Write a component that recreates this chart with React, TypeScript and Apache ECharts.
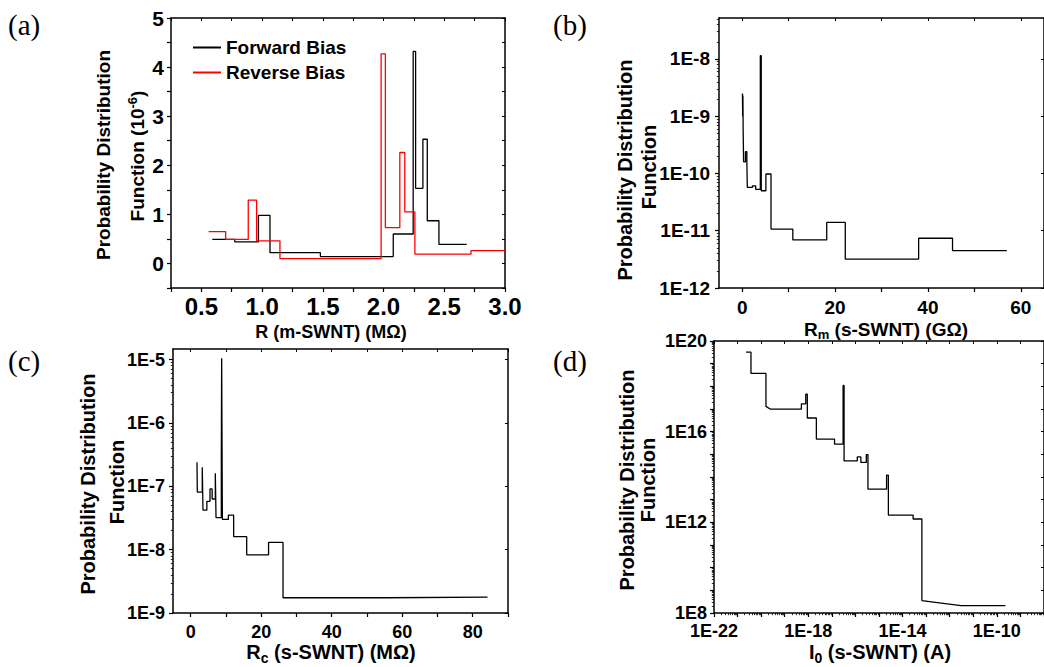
import React, { useEffect, useRef } from 'react';
import * as echarts from 'echarts';

const FONT = '"Liberation Sans", Arial, Helvetica, sans-serif';
const SERIF = '"Liberation Serif", "Times New Roman", serif';

// ---------- (a) R (m-SWNT) (MΩ) vs PDF (10^-6); step bins [start, value] ----------
const forwardBias: [number, number][] = [
  [0.59, 0.49], [0.775, 0.44], [0.97, 0.98], [1.065, 0.22], [1.48, 0.14],
  [2.08, 0.6], [2.244, 4.32], [2.264, 1.53], [2.324, 2.53], [2.36, 0.87],
  [2.456, 0.39], [2.685, 0.39],
];
const reverseBias: [number, number][] = [
  [0.56, 0.65], [0.7, 0.49], [0.886, 1.29], [0.955, 0.46], [1.147, 0.1],
  [1.98, 4.27], [2.015, 0.73], [2.134, 2.26], [2.175, 1.05], [2.258, 0.19],
  [2.72, 0.26], [3.0, 0.26],
];
const aXTicks = [0.25, 0.5, 0.75, 1.0, 1.25, 1.5, 1.75, 2.0, 2.25, 2.5, 2.75, 3.0];
const aXLabels = [0.5, 1.0, 1.5, 2.0, 2.5, 3.0];
const aYTicks = [-0.5, 0, 0.5, 1, 1.5, 2, 2.5, 3, 3.5, 4, 4.5, 5];
const aYLabels = [0, 1, 2, 3, 4, 5];

// ---------- (b) Rm (s-SWNT) (GΩ) vs PDF ----------
const rmSteps: [number, number][] = [
  [0.05, 2.5e-9], [0.1, 1.0e-9], [0.15, 2.3e-9], [0.2, 6e-10], [0.3, 1.6e-10],
  [0.7, 2.4e-10], [1.0, 1.6e-10], [1.1, 5.7e-11], [2.2, 6.1e-11], [2.9, 5.3e-11],
  [3.9, 1.14e-8], [4.1, 5.0e-11], [5.1, 9.8e-11], [6.2, 1.07e-11], [10.9, 6.9e-12],
  [18.2, 1.4e-11], [22.2, 3.2e-12], [38.0, 7.4e-12], [45.3, 4.5e-12], [57.0, 4.5e-12],
];
const bXTicks = [0, 10, 20, 30, 40, 50, 60];
const bXLabels = [0, 20, 40, 60];
const bYLabels = [1e-12, 1e-11, 1e-10, 1e-9, 1e-8];

// ---------- (c) Rc (s-SWNT) (MΩ) vs PDF ----------
const rcSteps: [number, number][] = [
  [1.8, 2.4e-7], [1.9, 8.1e-8], [3.3, 2.0e-7], [3.5, 4.2e-8], [4.6, 5.8e-8],
  [5.5, 9.1e-8], [6.1, 6.3e-8], [7.0, 1.6e-7], [7.2, 3.2e-8], [8.7, 2.8e-7],
  [8.8, 1.05e-5], [9.0, 3.0e-8], [10.7, 3.5e-8], [12.2, 1.6e-8], [15.9, 8.3e-9],
  [22.1, 1.3e-8], [26.2, 1.74e-9], [55.6, 1.78e-9], [84.2, 1.78e-9],
];
const cXTicks = [0, 10, 20, 30, 40, 50, 60, 70, 80, 90];
const cXLabels = [0, 20, 40, 60, 80];
const cYLabels = [1e-9, 1e-8, 1e-7, 1e-6, 1e-5];

// ---------- (d) I0 (s-SWNT) (A) vs PDF; polyline vertices ----------
const i0Trace: [number, number][] = [
  [2.3e-21, 3.2e19], [3.7e-21, 3.2e19], [3.7e-21, 3.7e18], [1.6e-20, 3.7e18],
  [1.6e-20, 1.3e17], [2.5e-20, 9.8e16], [5.1e-19, 9.8e16], [5.1e-19, 1.7e17],
  [7.8e-19, 1.7e17], [7.8e-19, 4.5e17], [9.1e-19, 4.5e17], [9.1e-19, 4.0e16],
  [2.2e-18, 4.0e16], [2.2e-18, 4.7e15], [1.3e-17, 4.7e15], [1.3e-17, 2.8e15],
  [3.0e-17, 2.8e15], [3.0e-17, 1.1e18], [3.3e-17, 1.1e18], [3.3e-17, 5.1e14],
  [1.2e-16, 5.1e14], [1.2e-16, 7.7e14], [1.7e-16, 7.7e14], [1.7e-16, 4.4e14],
  [2.9e-16, 4.4e14], [2.9e-16, 9.8e14], [3.4e-16, 9.8e14], [3.4e-16, 2.9e13],
  [2.1e-15, 2.9e13], [2.1e-15, 1.2e14], [2.5e-15, 1.2e14], [2.5e-15, 2.1e12],
  [2.8e-14, 2.1e12], [2.8e-14, 1.4e12], [6.6e-14, 1.4e12], [6.6e-14, 3.5e8],
  [3.0e-12, 2.1e8], [2.3e-10, 2.1e8],
];
const dXTicks = [1e-22, 1e-21, 1e-20, 1e-19, 1e-18, 1e-17, 1e-16, 1e-15, 1e-14, 1e-13, 1e-12, 1e-11, 1e-10, 1e-9, 1e-8];
const dXLabels = [1e-22, 1e-18, 1e-14, 1e-10];
const dYTicks = [1e8, 1e9, 1e10, 1e11, 1e12, 1e13, 1e14, 1e15, 1e16, 1e17, 1e18, 1e19, 1e20];
const dYLabels = [1e8, 1e12, 1e16, 1e20];

function logMinors(lo: number, hi: number): number[] {
  const out: number[] = [];
  const e0 = Math.floor(Math.log10(lo));
  const e1 = Math.ceil(Math.log10(hi));
  for (let e = e0; e <= e1; e++) {
    for (let m = 2; m <= 9; m++) {
      const v = m * Math.pow(10, e);
      if (v > lo && v < hi) out.push(v);
    }
  }
  return out;
}

const expFmt = (v: number) => '1E' + Math.round(Math.log10(v));

function mainAxis(o: any) {
  return {
    type: o.type,
    logBase: 10,
    gridIndex: o.grid,
    position: o.pos,
    min: o.min,
    max: o.max,
    axisLine: { show: true, onZero: false, lineStyle: { color: '#000', width: 1.5 } },
    axisTick: { show: true, inside: false, length: 4, customValues: o.ticks, lineStyle: { color: '#000', width: 1.2 } },
    axisLabel: {
      show: true, customValues: o.labels, formatter: o.fmt, margin: o.margin,
      fontSize: o.fontSize, fontWeight: 'bold', color: '#000', fontFamily: FONT,
    },
    splitLine: { show: false },
    minorTick: { show: false },
  };
}
function mirrorAxis(o: any) {
  return {
    type: o.type,
    logBase: 10,
    gridIndex: o.grid,
    position: o.pos,
    min: o.min,
    max: o.max,
    axisLine: { show: true, onZero: false, lineStyle: { color: '#000', width: 1.5 } },
    axisTick: { show: true, inside: true, length: 3, customValues: o.ticks, lineStyle: { color: '#000', width: 1 } },
    axisLabel: { show: false },
    splitLine: { show: false },
  };
}
function minorAxis(o: any) {
  return {
    type: o.type,
    logBase: 10,
    gridIndex: o.grid,
    position: o.pos,
    min: o.min,
    max: o.max,
    axisLine: { show: false, onZero: false },
    axisTick: { show: true, inside: false, length: 2.2, customValues: o.ticks, lineStyle: { color: '#000', width: 0.8 } },
    axisLabel: { show: false },
    splitLine: { show: false },
  };
}

const B_YMAX = 5.2e-8;
const C_YMAX = 1.47e-5;

export default function App() {
  const ref = useRef<HTMLDivElement>(null);
  useEffect(() => {
    if (!ref.current) return;
    const chart = echarts.init(ref.current, null, { renderer: 'svg' });

    const xAxis = [
      // (a)
      mainAxis({ type: 'value', grid: 0, pos: 'bottom', min: 0.25, max: 3.0, ticks: aXTicks, labels: aXLabels, fmt: (v: number) => v.toFixed(1), margin: 6, fontSize: 24 }),
      mirrorAxis({ type: 'value', grid: 0, pos: 'top', min: 0.25, max: 3.0, ticks: aXTicks }),
      // (b)
      mainAxis({ type: 'value', grid: 1, pos: 'bottom', min: -5, max: 65, ticks: bXTicks, labels: bXLabels, fmt: (v: number) => String(v), margin: 10, fontSize: 19 }),
      mirrorAxis({ type: 'value', grid: 1, pos: 'top', min: -5, max: 65, ticks: bXTicks }),
      // (c)
      mainAxis({ type: 'value', grid: 2, pos: 'bottom', min: -5, max: 90, ticks: cXTicks, labels: cXLabels, fmt: (v: number) => String(v), margin: 10, fontSize: 18 }),
      mirrorAxis({ type: 'value', grid: 2, pos: 'top', min: -5, max: 90, ticks: cXTicks }),
      // (d)
      mainAxis({ type: 'log', grid: 3, pos: 'bottom', min: 1e-22, max: 1e-8, ticks: dXTicks, labels: dXLabels, fmt: expFmt, margin: 9, fontSize: 18 }),
      mirrorAxis({ type: 'log', grid: 3, pos: 'top', min: 1e-22, max: 1e-8, ticks: dXTicks }),
      minorAxis({ type: 'log', grid: 3, pos: 'bottom', min: 1e-22, max: 1e-8, ticks: logMinors(1e-22, 1e-8) }),
    ];
    const yAxis = [
      // (a)
      mainAxis({ type: 'value', grid: 0, pos: 'left', min: -0.5, max: 5, ticks: aYTicks, labels: aYLabels, fmt: (v: number) => String(v), margin: 7, fontSize: 21 }),
      mirrorAxis({ type: 'value', grid: 0, pos: 'right', min: -0.5, max: 5, ticks: aYTicks }),
      // (b)
      mainAxis({ type: 'log', grid: 1, pos: 'left', min: 1e-12, max: B_YMAX, ticks: bYLabels, labels: bYLabels, fmt: expFmt, margin: 9, fontSize: 19 }),
      mirrorAxis({ type: 'log', grid: 1, pos: 'right', min: 1e-12, max: B_YMAX, ticks: bYLabels }),
      // (c)
      mainAxis({ type: 'log', grid: 2, pos: 'left', min: 1e-9, max: C_YMAX, ticks: cYLabels, labels: cYLabels, fmt: expFmt, margin: 8, fontSize: 18 }),
      mirrorAxis({ type: 'log', grid: 2, pos: 'right', min: 1e-9, max: C_YMAX, ticks: cYLabels }),
      // (d)
      mainAxis({ type: 'log', grid: 3, pos: 'left', min: 1e8, max: 1e20, ticks: dYTicks, labels: dYLabels, fmt: expFmt, margin: 7, fontSize: 18 }),
      mirrorAxis({ type: 'log', grid: 3, pos: 'right', min: 1e8, max: 1e20, ticks: dYTicks }),
      // minor ticks
      minorAxis({ type: 'log', grid: 1, pos: 'left', min: 1e-12, max: B_YMAX, ticks: logMinors(1e-12, B_YMAX) }),
      minorAxis({ type: 'log', grid: 2, pos: 'left', min: 1e-9, max: C_YMAX, ticks: logMinors(1e-9, C_YMAX) }),
      minorAxis({ type: 'log', grid: 3, pos: 'left', min: 1e8, max: 1e20, ticks: logMinors(1e8, 1e20) }),
    ];

    const lineBase = { type: 'line', showSymbol: false, symbol: 'none', silent: true, clip: true };

    const bold = { fontWeight: 'bold', fontFamily: FONT, fill: '#000' };
    const text = (x: number, y: number, t: string, size: number, rot = 0, rich?: any) => ({
      type: 'text', x, y, rotation: rot,
      style: { text: t, fontSize: size, ...bold, align: 'center', verticalAlign: 'middle', rich },
    });
    const R90 = Math.PI / 2;
    const subRich = (size: number) => ({
      m: { fontSize: size, fontWeight: 'bold', fontFamily: FONT, fill: '#000' },
      s: { fontSize: Math.round(size * 0.68), fontWeight: 'bold', fontFamily: FONT, fill: '#000', padding: [11, 0, 0, 0] },
    });
    const supRich = (size: number) => ({
      m: { fontSize: size, fontWeight: 'bold', fontFamily: FONT, fill: '#000' },
      s: { fontSize: Math.round(size * 0.68), fontWeight: 'bold', fontFamily: FONT, fill: '#000', padding: [0, 0, 10, 0] },
    });
    const letter = (x: number, y: number, t: string) => ({
      type: 'text', x, y,
      style: { text: t, fontSize: 29, fontFamily: SERIF, fill: '#000', align: 'left', verticalAlign: 'middle' },
    });

    chart.setOption({
      animation: false,
      backgroundColor: '#fff',
      grid: [
        { left: 171, top: 18, width: 334, height: 270 },
        { left: 719, top: 18, width: 332.5, height: 270 },
        { left: 173, top: 349, width: 335, height: 264 },
        { left: 714, top: 341, width: 333.3, height: 272 },
      ],
      xAxis,
      yAxis,
      legend: {
        left: 188, top: 33, orient: 'vertical', icon: 'rect', itemWidth: 28, itemHeight: 2, itemGap: 6,
        textStyle: { fontSize: 19, fontWeight: 'bold', fontFamily: FONT, color: '#000' },
        data: ['Forward Bias', 'Reverse Bias'],
        selectedMode: false,
      },
      series: [
        { ...lineBase, name: 'Forward Bias', xAxisIndex: 0, yAxisIndex: 0, step: 'end', data: forwardBias, lineStyle: { color: '#000', width: 1.3 }, itemStyle: { color: '#000' } },
        { ...lineBase, name: 'Reverse Bias', xAxisIndex: 0, yAxisIndex: 0, step: 'end', data: reverseBias, lineStyle: { color: '#ff0000', width: 1.3 }, itemStyle: { color: '#ff0000' } },
        { ...lineBase, name: 'Rm', xAxisIndex: 2, yAxisIndex: 2, step: 'end', data: rmSteps, lineStyle: { color: '#000', width: 1.3 }, itemStyle: { color: '#000' } },
        { ...lineBase, name: 'Rc', xAxisIndex: 4, yAxisIndex: 4, step: 'end', data: rcSteps, lineStyle: { color: '#000', width: 1.3 }, itemStyle: { color: '#000' } },
        { ...lineBase, name: 'I0', xAxisIndex: 6, yAxisIndex: 6, data: i0Trace, lineStyle: { color: '#000', width: 1.3 }, itemStyle: { color: '#000' } },
      ],
      graphic: [
        letter(8, 25, '(a)'),
        letter(553, 25, '(b)'),
        letter(8, 361, '(c)'),
        letter(553, 361, '(d)'),
        // (a) axis titles
        text(103, 155, 'Probability Distribution', 19, R90),
        text(137, 156, '{m|Function (10}{s|-6}{m|)}', 19, R90, supRich(19)),
        text(331, 332, 'R (m-SWNT) (MΩ)', 18),
        // (b)
        text(625, 170, 'Probability Distribution', 20, R90),
        text(649, 167, 'Function', 20, R90),
        text(886, 329, '{m|R}{s|m}{m| (s-SWNT) (GΩ)}', 19, 0, subRich(19)),
        // (c)
        text(88, 484, 'Probability Distribution', 20, R90),
        text(117, 482, 'Function', 20, R90),
        text(331, 652, '{m|R}{s|c}{m| (s-SWNT) (MΩ)}', 20, 0, subRich(20)),
        // (d)
        text(627, 480, 'Probability Distribution', 20, R90),
        text(648, 480, 'Function', 20, R90),
        text(880, 652, '{m|I}{s|0}{m| (s-SWNT) (A)}', 20, 0, subRich(20)),
      ],
    });
    return () => chart.dispose();
  }, []);
  return <div ref={ref} style={{ position: 'absolute', left: 0, top: 0, width: 1044, height: 667, background: '#fff' }} />;
}
